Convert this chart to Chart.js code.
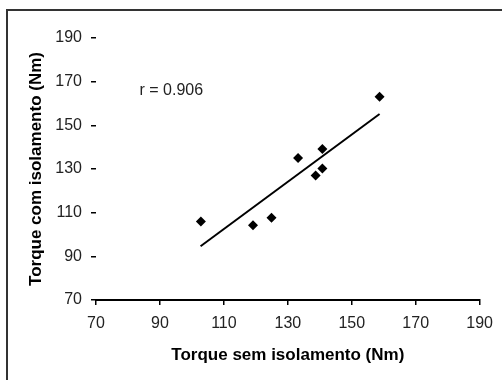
<!DOCTYPE html>
<html>
<head>
<meta charset="utf-8">
<script src="https://cdn.jsdelivr.net/npm/chart.js@4/dist/chart.umd.min.js"></script>
<style>
  html, body { margin: 0; padding: 0; background: #fff; }
  #wrap { width: 502px; height: 380px; }
</style>
</head>
<body>
<div id="wrap"><canvas id="torqueChart" width="502" height="380"></canvas></div>
<script>
// torque com x sem isolamento

const semIsolamento = [102.8, 119.1, 124.9, 133.2, 138.7, 140.8, 140.8, 158.7];
const comIsolamento = [106.0, 104.2, 107.7, 135.0, 127.0, 130.2, 139.2, 163.1];

// reta de regressao (extremos)
const retaX = [102.7, 158.7];
const retaY = [94.6, 155.2];

const axisMin = 70;
const axisMax = 190;
const axisStep = 20;

const rLabel = "r = 0.906";
const rPos = [83.6, 165.7];

/* ================================
   Moldura + texto do r
================================ */
const framePlugin = {
    id: "frame",
    beforeDraw: function (chart) {
        const ctx = chart.ctx;
        ctx.save();
        ctx.strokeStyle = "#333";
        ctx.lineWidth = 2;
        ctx.strokeRect(7, 10, 540, 420);
        ctx.restore();
    },
    afterDatasetsDraw: function (chart) {
        const ctx = chart.ctx;
        const x = chart.scales.x.getPixelForValue(rPos[0]);
        const y = chart.scales.y.getPixelForValue(rPos[1]);
        ctx.save();
        ctx.fillStyle = "#222";
        ctx.font = "16px 'Liberation Sans', Arial, sans-serif";
        ctx.textAlign = "left";
        ctx.textBaseline = "middle";
        ctx.fillText(rLabel, x, y);
        ctx.restore();
    },
};

const points = semIsolamento.map(function (v, i) {
    return { x: v, y: comIsolamento[i] };
});
const reta = retaX.map(function (v, i) {
    return { x: v, y: retaY[i] };
});

const tickFont = { family: "'Liberation Sans', Arial, sans-serif", size: 16 };
const titleFont = { family: "'Liberation Sans', Arial, sans-serif", size: 17, weight: "bold" };

new Chart(document.getElementById("torqueChart").getContext("2d"), {
    type: "scatter",
    data: {
        datasets: [{
            label: "Torque",
            data: points,
            pointStyle: "rectRot",
            pointRadius: 5,
            backgroundColor: "#000",
            borderColor: "#000",
            borderWidth: 0,
        }, {
            type: "line",
            label: "Regressao",
            data: reta,
            borderColor: "#000",
            borderWidth: 2,
            pointRadius: 0,
            fill: false,
        }, ],
    },
    plugins: [framePlugin],
    options: {
        responsive: false,
        animation: false,
        layout: {
            padding: { top: 38, right: 22, left: 0, bottom: 0 },
        },
        plugins: {
            legend: { display: false },
            tooltip: { enabled: false },
        },
        scales: {
            x: {
                type: "linear",
                min: axisMin,
                max: axisMax,
                afterFit: function (scale) {
                    scale.height = 80;
                },
                ticks: {
                    stepSize: axisStep,
                    color: "#222",
                    font: tickFont,
                    padding: 9,
                },
                grid: {
                    drawOnChartArea: false,
                    drawTicks: true,
                    tickLength: 5,
                    color: "#000",
                    lineWidth: 1.5,
                },
                border: { display: true, color: "#000", width: 2 },
                title: {
                    display: true,
                    text: "Torque sem isolamento (Nm)",
                    color: "#000",
                    font: titleFont,
                    padding: { top: 0, bottom: 14 },
                },
            },
            y: {
                type: "linear",
                min: axisMin,
                max: axisMax,
                afterFit: function (scale) {
                    scale.width = 96;
                },
                ticks: {
                    stepSize: axisStep,
                    color: "#222",
                    font: tickFont,
                    padding: 9,
                },
                grid: {
                    drawOnChartArea: false,
                    drawTicks: true,
                    tickLength: 5,
                    color: "#000",
                    lineWidth: 1.5,
                },
                border: { display: false },
                title: {
                    display: true,
                    text: "Torque com isolamento (Nm)",
                    color: "#000",
                    font: titleFont,
                    padding: { top: 26, bottom: 0 },
                },
            },
        },
    },
});
</script>
</body>
</html>
